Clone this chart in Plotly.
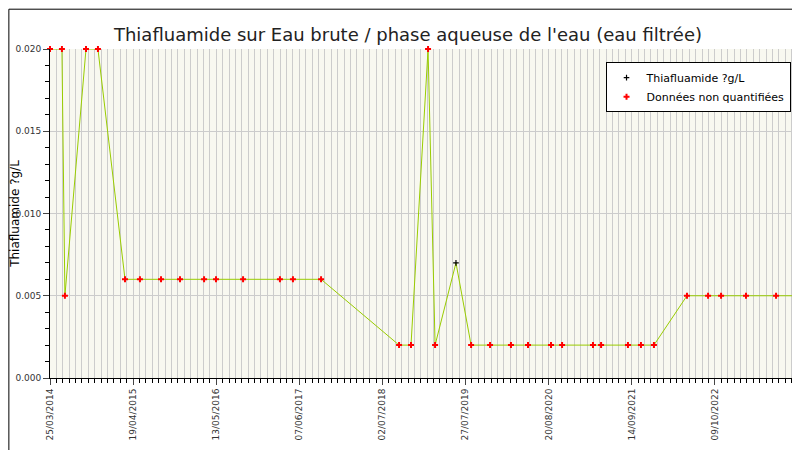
import plotly.graph_objects as go

dates = ["2014-03-25","2014-05-20","2014-06-03","2014-09-10","2014-11-05","2015-03-12","2015-05-21",
         "2015-08-28","2015-11-25","2016-03-17","2016-05-12","2016-09-16","2017-03-08","2017-05-08",
         "2017-09-17","2018-09-18","2018-11-13","2019-02-01","2019-03-06","2019-06-12","2019-08-22",
         "2019-11-19","2020-02-25","2020-05-15","2020-08-31","2020-10-22","2021-03-16","2021-04-23",
         "2021-08-27","2021-10-27","2021-12-27","2022-05-31","2022-09-07","2022-11-07","2023-03-04",
         "2023-07-23","2023-11-03"]
values = [0.02,0.02,0.005,0.02,0.02,0.006,0.006,0.006,0.006,0.006,0.006,0.006,0.006,0.006,0.006,
          0.002,0.002,0.02,0.002,0.007,0.002,0.002,0.002,0.002,0.002,0.002,0.002,0.002,0.002,0.002,
          0.002,0.005,0.005,0.005,0.005,0.005,0.005]
quantified = [v == 0.007 for v in values]

DAY = 86400000
fig = go.Figure()
fig.add_trace(go.Scatter(x=dates, y=values, mode="lines", line=dict(color="#99cc00", width=1),
                         showlegend=False, hoverinfo="skip", cliponaxis=False))
fig.add_trace(go.Scatter(x=[d for d, q in zip(dates, quantified) if q],
                         y=[v for v, q in zip(values, quantified) if q],
                         mode="markers", name="Thiafluamide ?g/L", cliponaxis=False,
                         marker=dict(symbol="cross-thin", size=4, color="black",
                                     line=dict(color="black", width=1.2))))
fig.add_trace(go.Scatter(x=[d for d, q in zip(dates, quantified) if not q],
                         y=[v for v, q in zip(values, quantified) if not q],
                         mode="markers", name="Données non quantifiées", cliponaxis=False,
                         marker=dict(symbol="cross", size=5, color="red")))

fig.update_layout(
    width=800, height=450, paper_bgcolor="white", plot_bgcolor="#f8f8f0",
    margin=dict(l=42, r=10, t=41, b=80, autoexpand=False),
    font=dict(family="DejaVu Sans", size=9, color="#333"),
    title=dict(text="Thiafluamide sur Eau brute / phase aqueuse de l'eau (eau filtrée)",
               x=0.5, xanchor="center", y=0.955, font=dict(size=18, color="#222")),
    legend=dict(x=0.99, y=0.96, xanchor="right", yanchor="top", bgcolor="white",
                bordercolor="black", borderwidth=1, font=dict(size=11, color="black")),
    shapes=[dict(type="rect", xref="paper", yref="paper", x0=-0.055, x1=1.0115, y0=-0.24, y1=1.121,
                 line=dict(color="black", width=1))],
)
fig.update_xaxes(type="date", range=["2014-03-25", "2023-11-03"], tick0="2014-03-25",
                 dtick=390 * DAY, tickformat="%d/%m/%Y", tickangle=-90, ticks="outside",
                 ticklen=6, showgrid=True, gridcolor="#cccccc", showline=True, linecolor="black",
                 linewidth=1, zeroline=False, automargin=False,
                 minor=dict(dtick=30 * DAY, tick0="2014-03-25", showgrid=True, gridcolor="#cccccc",
                            ticks="outside", ticklen=4, tickcolor="black"))
fig.update_yaxes(range=[0, 0.02], dtick=0.005, tickformat=".3f", title_text="Thiafluamide ?g/L",
                 title_font=dict(size=12, color="black"), title_standoff=8, ticks="outside", ticklen=6,
                 showgrid=True, gridcolor="#cccccc", showline=True, linecolor="black", linewidth=1,
                 zeroline=False, automargin=False,
                 minor=dict(dtick=0.001, ticks="outside", ticklen=4, tickcolor="black", showgrid=False))
fig.write_html("out.html")
